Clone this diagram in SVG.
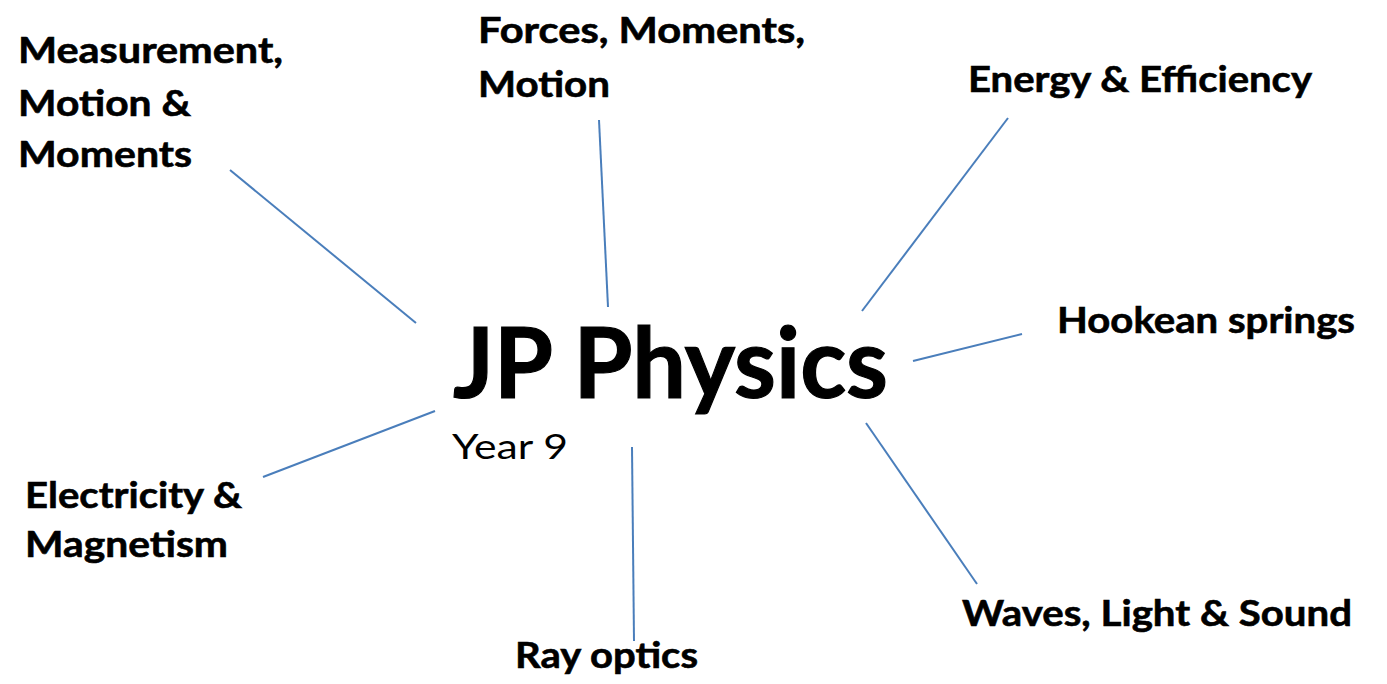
<svg xmlns="http://www.w3.org/2000/svg" width="1387" height="684" viewBox="0 0 1387 684">
<style>
.lbl{font-family:Lato,"Open Sans","Liberation Sans",sans-serif;font-weight:bold;font-size:37px;fill:#000;stroke:#000;stroke-width:0.6}
.title{font-family:Lato,"Open Sans","Liberation Sans",sans-serif;font-weight:bold;font-size:98px;fill:#000;stroke:#000;stroke-width:1.2}
.sub{font-family:Lato,"Open Sans","Liberation Sans",sans-serif;font-size:35px;fill:#000}
.conn line{stroke:#4a7ebb;stroke-width:2;stroke-linecap:butt}
</style>
<rect width="1387" height="684" fill="#fff"/>
<g id="connectors" class="conn">
<line x1="230" y1="170" x2="416" y2="323"/>
<line x1="599" y1="120" x2="608" y2="307"/>
<line x1="1008" y1="118" x2="862" y2="311"/>
<line x1="1022" y1="334" x2="913" y2="361"/>
<line x1="866" y1="423" x2="977" y2="584"/>
<line x1="632" y1="447" x2="634" y2="641"/>
<line x1="435" y1="411" x2="263" y2="477"/>
</g>
<g id="center">
<text class="title" x="453" y="398" textLength="435" lengthAdjust="spacingAndGlyphs">JP Physics</text>
<text class="sub" x="452" y="459" textLength="116" lengthAdjust="spacingAndGlyphs">Year 9</text>
</g>
<g id="measurement">
<text class="lbl" x="18" y="63" textLength="265" lengthAdjust="spacingAndGlyphs">Measurement,</text>
<text class="lbl" x="18" y="116" textLength="173" lengthAdjust="spacingAndGlyphs">Motion &amp;</text>
<text class="lbl" x="18" y="167" textLength="174" lengthAdjust="spacingAndGlyphs">Moments</text>
</g>
<g id="forces">
<text class="lbl" x="478" y="43" textLength="327" lengthAdjust="spacingAndGlyphs">Forces, Moments,</text>
<text class="lbl" x="478" y="97" textLength="132" lengthAdjust="spacingAndGlyphs">Motion</text>
</g>
<g id="energy">
<text class="lbl" x="968" y="92" textLength="344" lengthAdjust="spacingAndGlyphs">Energy &amp; Efficiency</text>
</g>
<g id="hookean">
<text class="lbl" x="1057" y="333" textLength="298" lengthAdjust="spacingAndGlyphs">Hookean springs</text>
</g>
<g id="waves">
<text class="lbl" x="962" y="626" textLength="390" lengthAdjust="spacingAndGlyphs">Waves, Light &amp; Sound</text>
</g>
<g id="ray">
<text class="lbl" x="515" y="668" textLength="183" lengthAdjust="spacingAndGlyphs">Ray optics</text>
</g>
<g id="electricity">
<text class="lbl" x="25" y="508" textLength="217" lengthAdjust="spacingAndGlyphs">Electricity &amp;</text>
<text class="lbl" x="25" y="557" textLength="203" lengthAdjust="spacingAndGlyphs">Magnetism</text>
</g>
</svg>
